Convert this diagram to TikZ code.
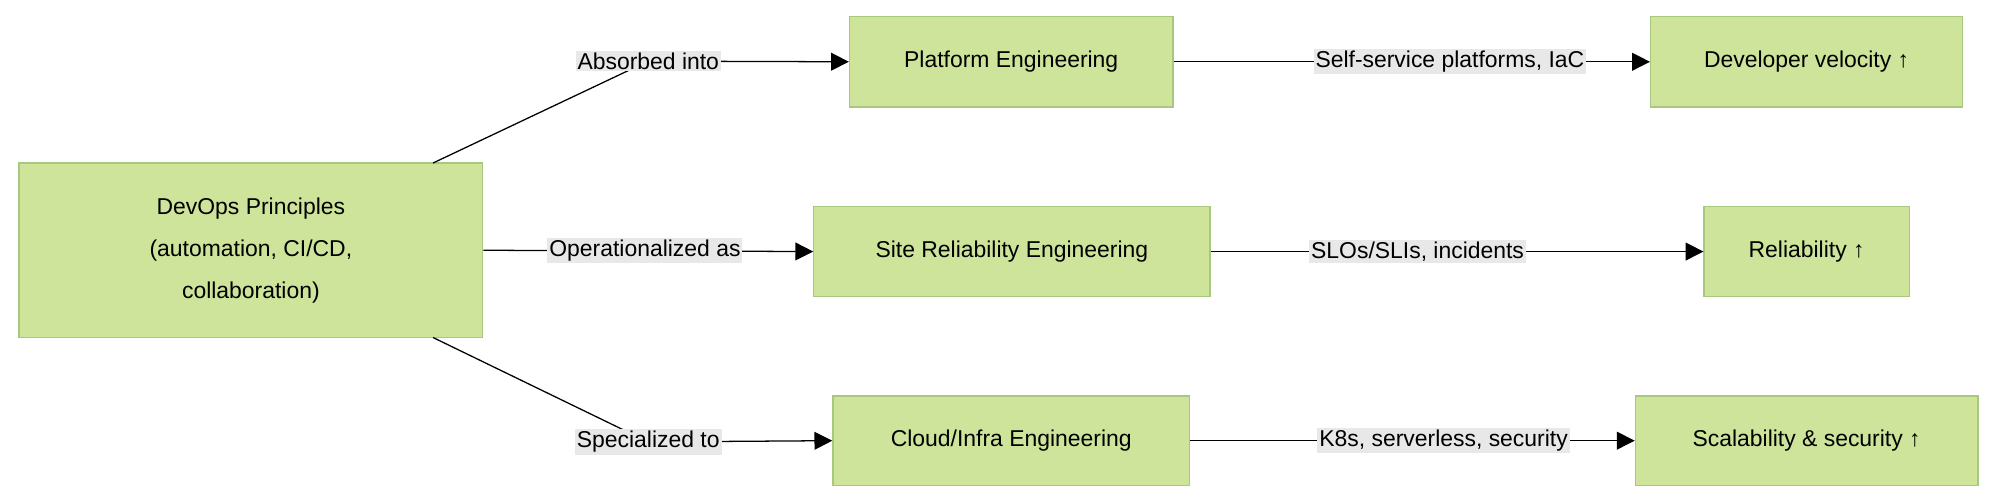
\documentclass[tikz,border=0pt]{standalone}
\usepackage{fontspec}
\setmainfont{Liberation Sans}
\usetikzlibrary{arrows.meta}
\definecolor{boxf}{HTML}{CDE49A}
\definecolor{boxd}{HTML}{A8C880}
\definecolor{lblf}{HTML}{E8E8E8}
\begin{document}
\begin{tikzpicture}[x=1pt,y=-1pt,
  box/.style={draw=boxd,fill=boxf,line width=1pt,inner sep=0pt,font=\fontsize{18}{33}\selectfont,align=center},
  lbl/.style={fill=lblf,inner sep=1.5pt,font=\fontsize{18}{22}\selectfont},
  ln/.style={line width=1pt},
  arr/.style={line width=1pt,-{Triangle[length=14pt,width=14pt]}}]
\useasboundingbox (0,0) rectangle (1568,394);
\node[box,minimum width=364pt,minimum height=137pt] (dev) at (197,196.5) {DevOps Principles\\(automation, CI/CD,\\collaboration)};
\node[box,minimum width=254pt,minimum height=71pt] (pe) at (794,48.5) {Platform Engineering};
\node[box,minimum width=245pt,minimum height=71pt] (dv) at (1418.5,48.5) {Developer velocity ↑};
\node[box,minimum width=311pt,minimum height=71pt] (sre) at (794.5,197.5) {Site Reliability Engineering};
\node[box,minimum width=161pt,minimum height=71pt] (rel) at (1418.5,197.5) {Reliability ↑};
\node[box,minimum width=280pt,minimum height=70pt] (cie) at (794,346) {Cloud/Infra Engineering};
\node[box,minimum width=269pt,minimum height=70pt] (sc) at (1418.5,346) {Scalability \& security ↑};
\coordinate (c1) at (340,128);
\coordinate (c3) at (340,265);
\coordinate (k1) at (509,48);
\coordinate (k3) at (509,347);
\draw[ln] (c1) -- (k1);
\draw[arr] (k1) -- (pe.west);
\node[lbl] (l1) at (k1) {Absorbed into};
\draw[arr] (dev.east) -- (sre.west) node[lbl,pos=0.49] (l2) {Operationalized as};
\draw[ln] (c3) -- (k3);
\draw[arr] (k3) -- (cie.west);
\node[lbl] (l3) at (k3) {Specialized to};
\draw[arr] (pe.east) -- (dv.west) node[lbl,pos=0.58] (l4) {Self-service platforms, IaC};
\draw[arr] (sre.east) -- (rel.west) node[lbl,pos=0.42] (l5) {SLOs/SLIs, incidents};
\draw[arr] (cie.east) -- (sc.west) node[lbl,pos=0.57] (l6) {K8s, serverless, security};
\end{tikzpicture}
\end{document}
